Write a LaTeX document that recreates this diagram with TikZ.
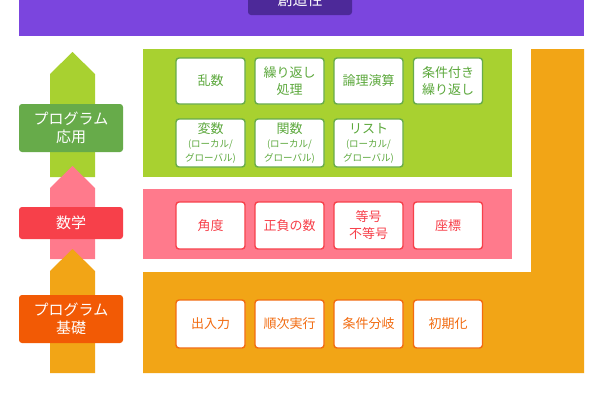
\documentclass[tikz,border=0pt]{standalone}
\usepackage{fontspec}
\setmainfont{Noto Sans CJK JP}
\definecolor{purp}{HTML}{7B45DE}
\definecolor{dpurp}{HTML}{4D2999}
\definecolor{lgreen}{HTML}{A8D130}
\definecolor{dgreen}{HTML}{67AB4A}
\definecolor{tgreen}{HTML}{5CA83C}
\definecolor{pinkb}{HTML}{FF7A8C}
\definecolor{redl}{HTML}{F7404A}
\definecolor{orng}{HTML}{F2A516}
\definecolor{orngl}{HTML}{F25A05}
\definecolor{orngt}{HTML}{F26B10}
\tikzset{
  itembox/.style={draw, fill=white, line width=1.4pt, rounded corners=3pt, minimum width=69pt, align=center, inner sep=1pt},
  gbox/.style={itembox, draw=dgreen, text=tgreen, font=\fontsize{13}{17}\selectfont},
  gsbox/.style={gbox, minimum height=48pt},
  pbox/.style={itembox, draw=redl, text=redl, minimum height=47pt, font=\fontsize{13}{17}\selectfont},
  obox/.style={itembox, draw=orngt, text=orngt, minimum height=48pt, font=\fontsize{13}{17}\selectfont},
  lvl/.style={rounded corners=3pt, minimum width=104pt, text=white, align=center, inner sep=1pt, font=\fontsize{15}{18}\selectfont},
}
\begin{document}
\begin{tikzpicture}[x=1pt,y=-1pt]
\useasboundingbox (0,0) rectangle (600,400);
\fill[white] (0,0) rectangle (600,400);
\begin{scope}
\clip (0,0) rectangle (600,400);
% top band
\fill[purp] (19,-5) rectangle (584,36);
\node[fill=dpurp, rounded corners=3pt, minimum width=104pt, minimum height=30pt, text=white, font=\fontsize{15}{18}\selectfont] (creat) at (300,0) {創造性};
\end{scope}
% bands
\fill[lgreen] (143,49) rectangle (512,177);
\fill[pinkb] (143,189) rectangle (512,259);
\fill[orng] (531,49) -- (584,49) -- (584,373) -- (143,373) -- (143,272) -- (531,272) -- cycle;
% arrows
\fill[lgreen] (50,177) -- (50,74) -- (72.5,52) -- (95,74) -- (95,177) -- cycle;
\fill[pinkb] (50,259) -- (50,188) -- (72.5,166) -- (95,188) -- (95,259) -- cycle;
\fill[orng] (50,373) -- (50,271) -- (72.5,249) -- (95,271) -- (95,373) -- cycle;
% level labels
\node[lvl, fill=dgreen, minimum height=48pt] (app) at (71,128) {プログラム\\応用};
\node[lvl, fill=redl, minimum height=32pt] (math) at (71,223) {数学};
\node[lvl, fill=orngl, minimum height=48pt] (basic) at (71,319) {プログラム\\基礎};
% green boxes
\node[gbox, minimum height=46pt] (rand) at (210.5,81) {乱数};
\node[gbox, minimum height=46pt] (loop) at (289.5,81) {繰り返し\\処理};
\node[gbox, minimum height=46pt] (logic) at (368.5,81) {論理演算};
\node[gbox, minimum height=46pt] (cloop) at (448,81) {条件付き\\繰り返し};
\node[gsbox] (var) at (210.5,143) {変数\\[-3pt]{\fontsize{9.5}{11}\selectfont (ローカル/}\\[-3pt]{\fontsize{9.5}{11}\selectfont グローバル)}};
\node[gsbox] (func) at (289.5,143) {関数\\[-3pt]{\fontsize{9.5}{11}\selectfont (ローカル/}\\[-3pt]{\fontsize{9.5}{11}\selectfont グローバル)}};
\node[gsbox] (list) at (368.5,143) {リスト\\[-3pt]{\fontsize{9.5}{11}\selectfont (ローカル/}\\[-3pt]{\fontsize{9.5}{11}\selectfont グローバル)}};
% pink boxes
\node[pbox] (angle) at (210.5,225.5) {角度};
\node[pbox] (sign) at (289.5,225.5) {正負の数};
\node[pbox] (eq) at (368.5,225.5) {等号\\不等号};
\node[pbox] (coord) at (448,225.5) {座標};
% orange boxes
\node[obox] (io) at (210.5,324) {出入力};
\node[obox] (seq) at (289.5,324) {順次実行};
\node[obox] (cond) at (368.5,324) {条件分岐};
\node[obox] (init) at (448,324) {初期化};
\end{tikzpicture}
\end{document}
